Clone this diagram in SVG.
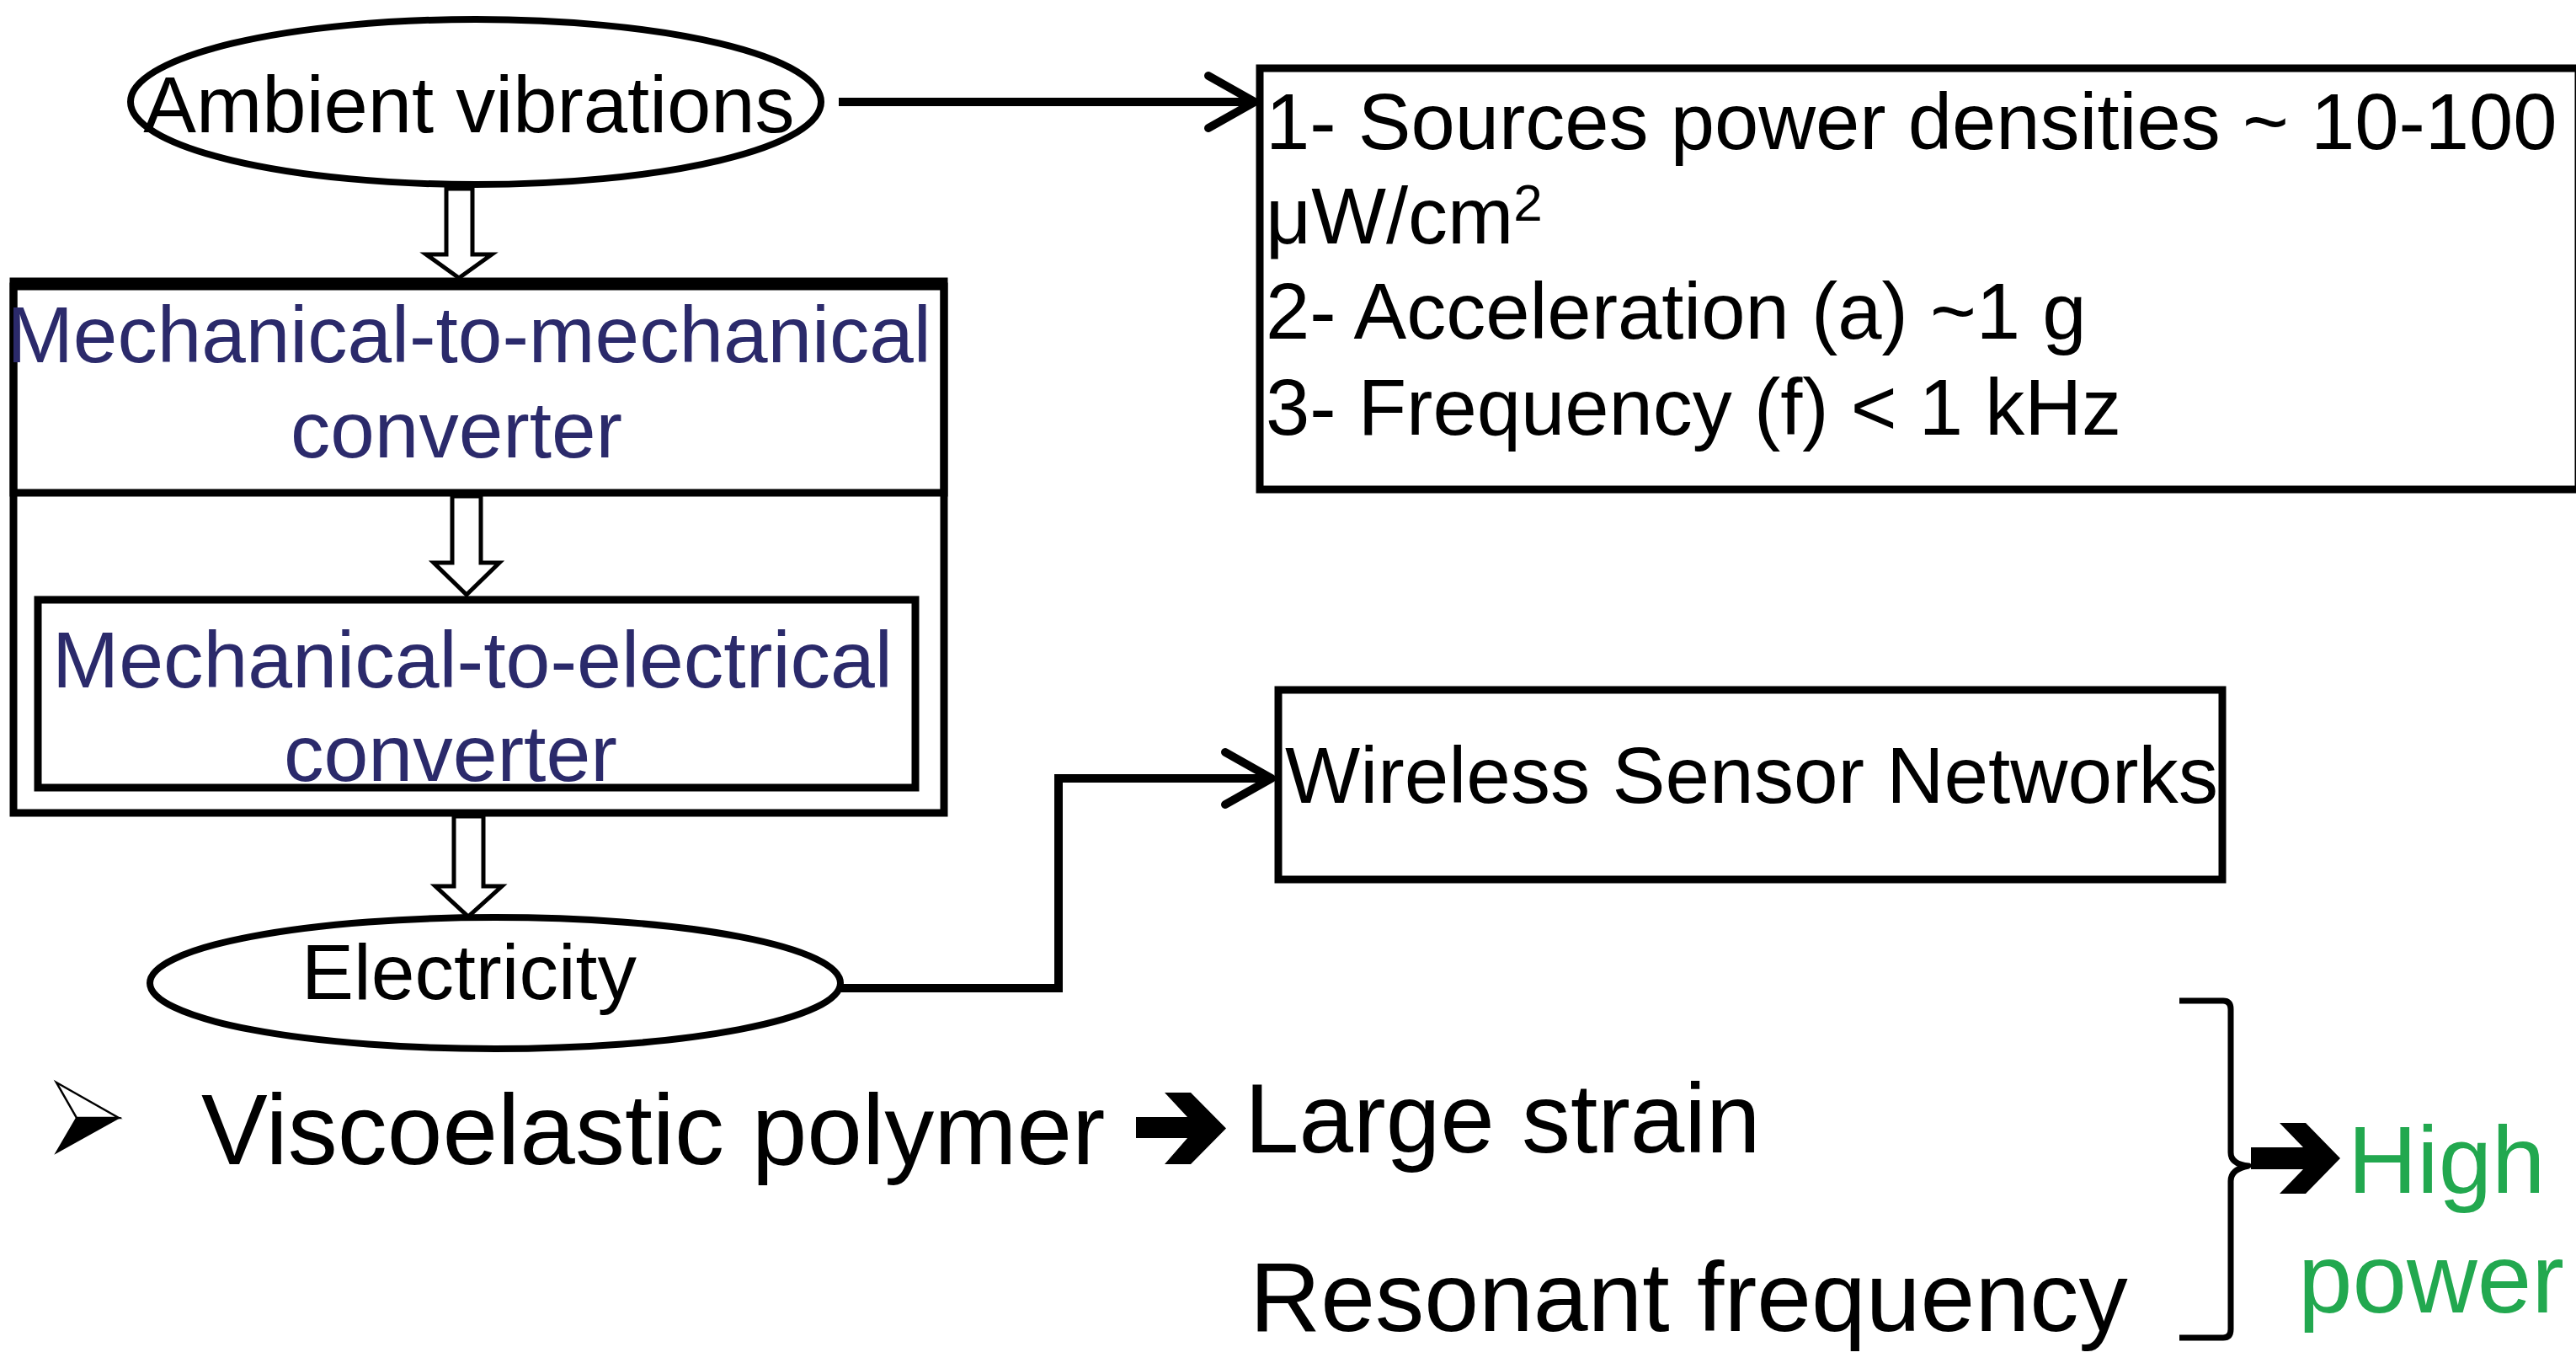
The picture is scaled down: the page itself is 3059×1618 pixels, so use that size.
<svg xmlns="http://www.w3.org/2000/svg" width="3059" height="1618" viewBox="0 0 3059 1618">
  <style>
    .t { font-family: "Liberation Sans", Arial, sans-serif; fill: #000; }
    .navy { fill: #2B2A6B; }
    .green { fill: #22A84F; }
    .box { fill: none; stroke: #000; stroke-width: 9; }
    .ell { fill: #fff; stroke: #000; stroke-width: 8; }
    .hollow { fill: #fff; stroke: #000; stroke-width: 5; stroke-linejoin: miter; }
    .conn { fill: none; stroke: #000; stroke-width: 10; }
    .brace { fill: none; stroke: #000; stroke-width: 7; stroke-linejoin: round; }
  </style>
  <defs>
    <marker id="openArrow" markerUnits="userSpaceOnUse" viewBox="-8 -8 76 78" markerWidth="76" markerHeight="78" refX="55" refY="31" orient="auto">
      <path d="M0,0 L55,31 L0,62" fill="none" stroke="#000" stroke-width="10" stroke-linecap="round" stroke-linejoin="round"/>
    </marker>
  </defs>
  <rect width="3059" height="1618" fill="#fff"/>

  <g id="ambient">
    <ellipse class="ell" cx="565" cy="121" rx="410" ry="98"/>
    <text class="t" x="557" y="157" font-size="94" text-anchor="middle">Ambient vibrations</text>
  </g>

  <g id="properties">
    <rect class="box" x="1496" y="81" width="1566" height="500"/>
    <text class="t" font-size="94">
      <tspan x="1503" y="177">1- Sources power densities ~ 10-100</tspan>
      <tspan x="1503" y="289">μW/cm</tspan><tspan font-size="62" dy="-27">2</tspan>
      <tspan x="1503" y="402">2- Acceleration (a) ~1 g</tspan>
      <tspan x="1503" y="516">3- Frequency (f) &lt; 1 kHz</tspan>
    </text>
  </g>

  <g id="outer-converter">
    <rect class="box" x="16" y="340" width="1105" height="625"/>
  </g>

  <g id="mech-mech">
    <rect class="box" x="16" y="334" width="1105" height="251"/>
    <text class="t navy" x="557" y="430" font-size="94.5" text-anchor="middle">Mechanical-to-mechanical</text>
    <text class="t navy" x="542" y="543" font-size="94.5" text-anchor="middle">converter</text>
  </g>

  <g id="mech-elec">
    <rect class="box" x="45" y="712" width="1042" height="223"/>
    <text class="t navy" x="561" y="816" font-size="95" text-anchor="middle">Mechanical-to-electrical</text>
    <text class="t navy" x="535" y="927" font-size="95" text-anchor="middle">converter</text>
  </g>

  <g id="electricity">
    <ellipse class="ell" cx="588" cy="1167" rx="410" ry="78"/>
    <text class="t" x="557" y="1186" font-size="93" text-anchor="middle">Electricity</text>
  </g>

  <g id="wsn">
    <rect class="box" x="1518" y="819" width="1121" height="225"/>
    <text class="t" x="1526" y="953" font-size="94.5">Wireless Sensor Networks</text>
  </g>

  <g id="bottom-notes">
    <polygon points="67,1285 141,1327 91,1327" fill="#fff" stroke="#000" stroke-width="2.5" stroke-linejoin="miter"/>
    <polygon points="91,1327 141,1327 67,1368" fill="#000" stroke="#000" stroke-width="2"/>
    <text class="t" x="239" y="1382" font-size="118">Viscoelastic polymer</text>
    <text class="t" x="1478" y="1368" font-size="116">Large strain</text>
    <text class="t" x="1484" y="1580" font-size="116.5">Resonant frequency</text>
    <text class="t green" x="2788" y="1416" font-size="114">High</text>
    <text class="t green" x="2729" y="1558" font-size="116">power</text>
  </g>

  <g id="connectors">
    <path class="conn" d="M996,121 H1490" marker-end="url(#openArrow)"/>
    <path class="conn" d="M999,1173 H1257 V924 H1510" marker-end="url(#openArrow)"/>
    <polygon class="hollow" points="530,224 561,224 561,302 584,302 545,330 506,302 530,302"/>
    <polygon class="hollow" points="537,589 571,589 571,668 593,668 554,706 515,668 537,668"/>
    <polygon class="hollow" points="539,969 574,969 574,1052 596,1052 556,1088 517,1052 539,1052"/>
    <path d="M1349,1326 H1410 L1383,1297 H1414 L1456,1339.5 L1414,1382 H1383 L1410,1351 H1349 Z" fill="#000"/>
    <path class="brace" d="M2588,1188 H2640 Q2649,1188 2649,1198 V1368 Q2649,1382 2670,1384 Q2649,1388 2649,1402 V1578 Q2649,1588 2640,1588 H2588"/>
    <path d="M2673,1362 H2735 L2707,1333 H2738 L2779,1375 L2738,1417 H2707 L2735,1388 H2673 Z" fill="#000"/>
  </g>
</svg>
